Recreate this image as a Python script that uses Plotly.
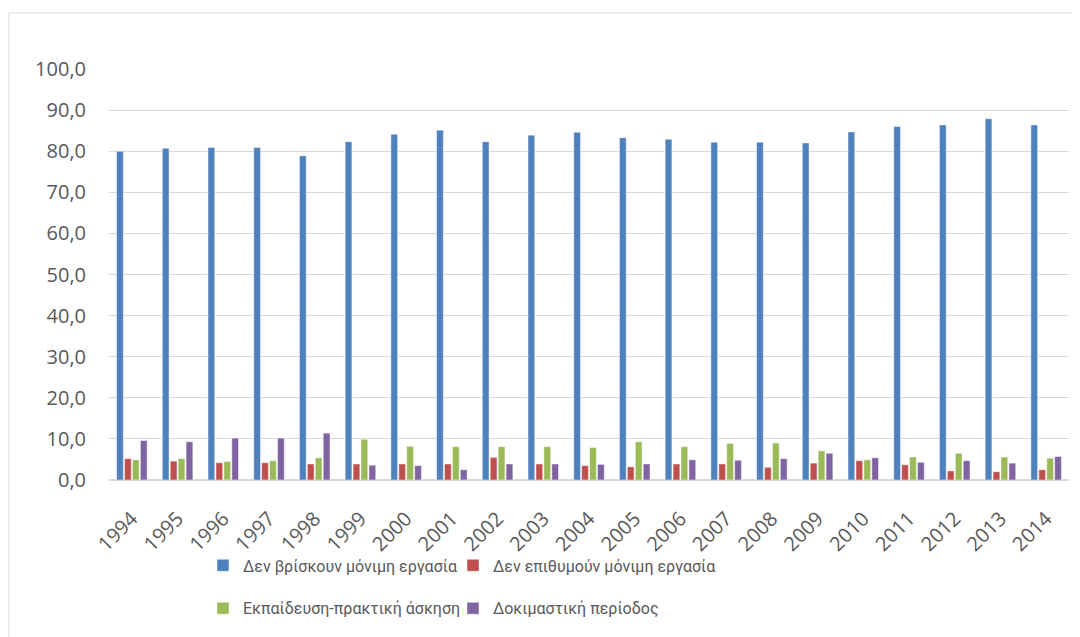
import plotly.graph_objects as go

years = [str(y) for y in range(1994, 2015)]
names = ["Δεν βρίσκουν μόνιμη εργασία", "Δεν επιθυμούν μόνιμη εργασία",
         "Εκπαίδευση-πρακτική άσκηση", "Δοκιμαστική περίοδος"]
no_find = [80.0, 80.7, 80.9, 80.9, 78.9, 82.3, 84.1, 85.1, 82.3, 83.9, 84.6,
           83.3, 82.9, 82.2, 82.2, 82.0, 84.7, 86.0, 86.4, 87.9, 86.4]
no_want = [5.2, 4.6, 4.2, 4.2, 3.9, 3.9, 3.9, 3.9, 5.5, 3.9, 3.5,
           3.2, 3.9, 3.9, 3.1, 4.1, 4.7, 3.7, 2.2, 2.0, 2.5]
training = [4.9, 5.2, 4.5, 4.7, 5.4, 9.9, 8.2, 8.1, 8.1, 8.1, 7.9,
            9.3, 8.1, 8.9, 9.0, 7.1, 4.9, 5.6, 6.5, 5.6, 5.3]
trial = [9.6, 9.3, 10.2, 10.2, 11.4, 3.6, 3.5, 2.5, 3.9, 3.9, 3.8,
         3.9, 4.9, 4.8, 5.2, 6.5, 5.4, 4.3, 4.7, 4.1, 5.7]
colors = ["#4F81BD", "#C0504D", "#9BBB59", "#8064A2"]
series = [no_find, no_want, training, trial]
legends = ["legend", "legend2", "legend3", "legend4"]

fig = go.Figure()
for nm, vals, col, lg in zip(names, series, colors, legends):
    fig.add_trace(go.Bar(x=years, y=vals, name=nm, legend=lg,
                         marker=dict(color=col, line=dict(color="rgba(255,255,255,0.45)", width=1))))

# page has an 8px body margin; figure coordinates = page - 8
OFF = 8
W, H = 1072, 629
L, T = 101, 61
plot_bottom = 472.5
R = 11
B = H - plot_bottom
pw, ph = W - L - R, plot_bottom - T

def px(x):  # page x -> paper
    return (x - OFF - L) / pw

def py(y):  # page y -> paper
    return (plot_bottom - (y - OFF)) / ph

font = "Open Sans, sans-serif"
legfont = "Roboto, sans-serif"
tickc = "#595959"
leg_common = dict(orientation="h", xanchor="left", yanchor="middle",
                  font=dict(family=legfont, size=16, color=tickc),
                  bgcolor="rgba(0,0,0,0)", itemwidth=30, visible=True)

fig.update_layout(
    width=W, height=H,
    margin=dict(l=L, r=R, t=T, b=B),
    paper_bgcolor="white", plot_bgcolor="white",
    barmode="group", bargap=0.306, bargroupgap=0.15,
    separators=", ",
    showlegend=True,
    font=dict(family=font, color=tickc),
    legend=dict(x=px(203), y=py(566), **leg_common),
    legend2=dict(x=px(453), y=py(566), **leg_common),
    legend3=dict(x=px(203), y=py(609), **leg_common),
    legend4=dict(x=px(453), y=py(609), **leg_common),
    xaxis=dict(type="category", tickangle=-45, showgrid=False, showline=False,
               tickfont=dict(family=font, size=20, color=tickc), ticks="",
               ticklabelstandoff=22),
    yaxis=dict(range=[0, 100], dtick=10, tickformat=".1f", showgrid=True,
               gridcolor="#D9D9D9", gridwidth=1.3, zeroline=True,
               zerolinecolor="#D9D9D9", zerolinewidth=1.5, showline=False, ticks="",
               tickfont=dict(family=font, size=20, color=tickc), ticklabelstandoff=22),
    shapes=[dict(type="rect", xref="paper", yref="paper",
                 x0=px(9), x1=px(1100), y0=py(660), y1=py(13),
                 line=dict(color="#D9D9D9", width=1), fillcolor="rgba(0,0,0,0)",
                 layer="below")],
)

fig.write_html("out.html")
